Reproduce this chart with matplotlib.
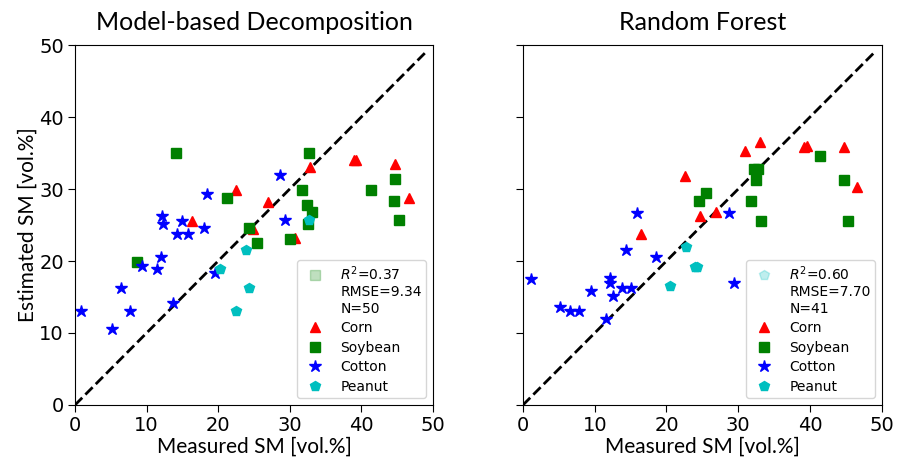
import numpy as np
import matplotlib
matplotlib.use("Agg")
import matplotlib.pyplot as plt
from matplotlib.lines import Line2D

# Model-based decomposition (left)
mbd_corn_x = [22.5, 16.3, 26.9, 32.9, 39.0, 39.3, 44.7, 46.6, 30.8, 24.9]
mbd_corn_y = [29.9, 25.6, 28.2, 33.0, 34.0, 34.0, 33.5, 28.8, 23.2, 24.4]
mbd_soy_x = [32.7, 44.7, 31.7, 41.3, 44.5, 32.4, 33.1, 32.6, 45.3, 30.1, 25.4, 14.1, 21.3, 24.3, 8.7]
mbd_soy_y = [35.0, 31.4, 29.9, 29.9, 28.3, 27.8, 26.8, 25.1, 25.7, 23.1, 22.5, 35.0, 28.8, 24.6, 19.9]
mbd_cot_x = [28.7, 29.4, 18.5, 12.1, 12.3, 14.9, 18.0, 14.2, 15.8, 9.4, 11.4, 12.0, 19.6, 6.4,
             0.9, 7.7, 13.7, 5.2, 13.4]
mbd_cot_y = [31.9, 25.7, 29.3, 26.3, 25.2, 25.6, 24.6, 23.7, 23.7, 19.3, 18.9, 20.5, 18.3, 16.3,
             13.1, 13.1, 14.2, 10.5, -0.8]
mbd_pea_x = [32.7, 23.9, 20.3, 24.3, 22.5]
mbd_pea_y = [25.7, 21.5, 18.9, 16.2, 13.1]

# Random forest (right)
rf_corn_x = [22.6, 16.4, 24.7, 26.9, 30.9, 33.0, 39.2, 39.6, 44.7, 46.6]
rf_corn_y = [31.8, 23.7, 26.2, 26.8, 35.3, 36.5, 35.8, 36.0, 35.9, 30.3]
rf_soy_x = [24.5, 25.5, 32.2, 32.8, 32.5, 41.4, 44.7, 31.8, 33.2, 45.3]
rf_soy_y = [28.4, 29.5, 32.8, 32.8, 31.3, 34.6, 31.2, 28.3, 25.5, 25.5]
rf_cot_x = [15.9, 28.7, 29.4, 14.3, 18.6, 1.1, 12.1, 12.1, 9.5, 12.5, 13.8, 15.1, 5.2, 6.5, 7.8, 11.6]
rf_cot_y = [26.6, 26.7, 17.0, 21.5, 20.5, 17.5, 17.6, 17.0, 15.9, 15.2, 16.2, 16.2, 13.6, 13.0, 13.1, 12.0]
rf_pea_x = [22.7, 24.0, 24.2, 20.5]
rf_pea_y = [22.0, 19.2, 19.1, 16.5]

titles = ["Model-based Decomposition", "Random Forest"]
stats = ["$R^2$=0.37\nRMSE=9.34\nN=50", "$R^2$=0.60\nRMSE=7.70\nN=41"]
crops = ["Corn", "Soybean", "Cotton", "Peanut"]
markers = ["^", "s", "*", "p"]
colors = ["r", "g", "b", "c"]
msizes = [7, 7, 9, 7.5]

label_font = "Lato"

fig = plt.figure(figsize=(8.97, 4.57), dpi=100)
ax1 = fig.add_axes([0.0836, 0.1138, 0.399, 0.7877])
ax2 = fig.add_axes([0.583, 0.1138, 0.400, 0.7877])

data = [
    [(mbd_corn_x, mbd_corn_y), (mbd_soy_x, mbd_soy_y), (mbd_cot_x, mbd_cot_y), (mbd_pea_x, mbd_pea_y)],
    [(rf_corn_x, rf_corn_y), (rf_soy_x, rf_soy_y), (rf_cot_x, rf_cot_y), (rf_pea_x, rf_pea_y)],
]
stat_handle = [("s", "g"), ("p", "c")]

for k, ax in enumerate([ax1, ax2]):
    ax.plot([0, 49], [0, 49], "k--", lw=2, zorder=1)
    handles = []
    for (x, y), m, c, ms, name in zip(data[k], markers, colors, msizes, crops):
        ax.plot(x, y, ls="none", marker=m, color=c, markersize=ms, zorder=2)
        handles.append(Line2D([], [], ls="none", marker=m, color=c, markersize=ms, label=name))
    sm, sc = stat_handle[k]
    h0 = Line2D([], [], ls="none", marker=sm, color=sc, alpha=0.25, markersize=7, label=stats[k])
    leg = ax.legend(handles=[h0] + handles, loc="lower right", fontsize=10,
                    labelspacing=0.4, borderpad=0.3)
    # put the pale stats marker next to the first line of its label
    lh = leg.legend_handles[0]
    lh.set_ydata(np.asarray(lh.get_ydata(), dtype=float) + 11.5)
    ax.set_xlim(0, 50)
    ax.set_ylim(0, 50)
    ax.set_xticks(np.arange(0, 51, 10))
    ax.set_yticks(np.arange(0, 51, 10))
    ax.tick_params(labelsize=14, length=5, pad=3)
    ax.set_title(titles[k], fontsize=18, family=label_font, pad=10.5)
    ax.set_xlabel("Measured SM [vol.%]", fontsize=15, family=label_font, labelpad=1)

ax1.set_ylabel("Estimated SM [vol.%]", fontsize=15, family=label_font, labelpad=1)
ax2.tick_params(labelleft=False)

fig.savefig("out.png", dpi=100)
